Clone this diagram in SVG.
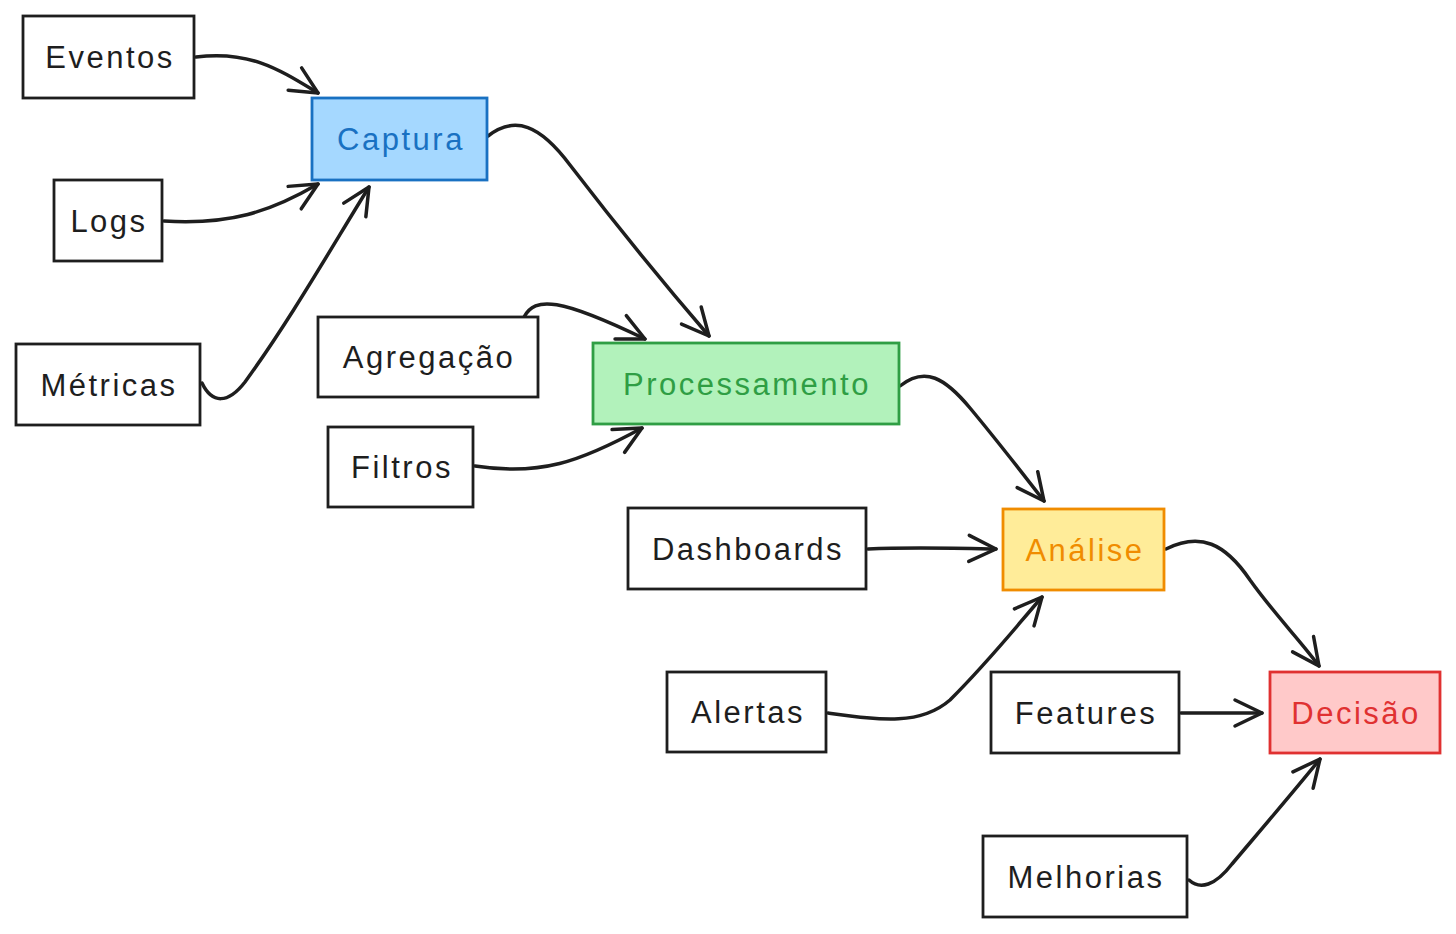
<svg xmlns="http://www.w3.org/2000/svg" width="1456" height="934" viewBox="0 0 1456 934">
<style>
.box{fill:#ffffff;stroke:#1e1e1e;stroke-width:2.8}
.lbl{font-family:"Liberation Sans","DejaVu Sans",sans-serif;font-size:31px;letter-spacing:2.5px;text-anchor:middle;fill:#1e1e1e}
.conn path{fill:none;stroke:#1e1e1e;stroke-width:3.5;stroke-linecap:round}
</style>
<defs>
<marker id="ah" markerUnits="userSpaceOnUse" markerWidth="36" markerHeight="36" refX="32" refY="18" orient="auto" viewBox="0 0 36 36">
<path d="M5,5 L32,18 L5,31" fill="none" stroke="#1e1e1e" stroke-width="3.5" stroke-linecap="round" stroke-linejoin="round"/>
</marker>
</defs>
<rect width="1456" height="934" fill="#ffffff"/>
<g class="conn" id="connectors">
<path d="M196,57 C250,50 280,70 318,93" marker-end="url(#ah)"/>
<path d="M164,221 C230,225 270,212 318,184" marker-end="url(#ah)"/>
<path d="M202,383 C212,404 228,404 245,382 C290,320 330,250 369,187" marker-end="url(#ah)"/>
<path d="M488,136 C515,115 540,125 570,165 C620,230 665,285 709,336" marker-end="url(#ah)"/>
<path d="M524,317 C535,296 560,298 645,339" marker-end="url(#ah)"/>
<path d="M475,466 C540,476 580,462 642,428" marker-end="url(#ah)"/>
<path d="M900,386 C925,366 945,378 970,408 C990,432 1020,470 1044,501" marker-end="url(#ah)"/>
<path d="M868,549 C910,547 950,548 996,549" marker-end="url(#ah)"/>
<path d="M828,713 C880,720 920,726 950,700 C990,660 1015,628 1042,597" marker-end="url(#ah)"/>
<path d="M1166,549 C1200,532 1225,543 1250,580 C1275,615 1300,640 1319,666" marker-end="url(#ah)"/>
<path d="M1181,713 L1262,713" marker-end="url(#ah)"/>
<path d="M1189,880 C1200,890 1215,886 1232,864 C1265,825 1295,790 1320,759" marker-end="url(#ah)"/>
</g>
<g id="eventos"><rect class="box" x="23" y="16" width="171" height="82"/><text class="lbl" x="110" y="68">Eventos</text></g>
<g id="captura"><rect class="box" x="312" y="98" width="175" height="82" style="fill:#a5d8ff;stroke:#1971c2"/><text class="lbl" x="401" y="150" style="fill:#1971c2">Captura</text></g>
<g id="logs"><rect class="box" x="54" y="180" width="108" height="81"/><text class="lbl" x="109" y="232">Logs</text></g>
<g id="metricas"><rect class="box" x="16" y="344" width="184" height="81"/><text class="lbl" x="109" y="396">Métricas</text></g>
<g id="agregacao"><rect class="box" x="318" y="317" width="220" height="80"/><text class="lbl" x="429" y="368">Agregação</text></g>
<g id="filtros"><rect class="box" x="328" y="427" width="145" height="80"/><text class="lbl" x="402" y="478">Filtros</text></g>
<g id="processamento"><rect class="box" x="593" y="343" width="306" height="81" style="fill:#b2f2bb;stroke:#2f9e44"/><text class="lbl" x="747" y="395" style="fill:#2f9e44">Processamento</text></g>
<g id="dashboards"><rect class="box" x="628" y="508" width="238" height="81"/><text class="lbl" x="748" y="560">Dashboards</text></g>
<g id="analise"><rect class="box" x="1003" y="509" width="161" height="81" style="fill:#ffec99;stroke:#f08c00"/><text class="lbl" x="1085" y="561" style="fill:#f08c00">Análise</text></g>
<g id="alertas"><rect class="box" x="667" y="672" width="159" height="80"/><text class="lbl" x="748" y="723">Alertas</text></g>
<g id="features"><rect class="box" x="991" y="672" width="188" height="81"/><text class="lbl" x="1086" y="724">Features</text></g>
<g id="decisao"><rect class="box" x="1270" y="672" width="170" height="81" style="fill:#ffc9c9;stroke:#e03131"/><text class="lbl" x="1356" y="724" style="fill:#e03131">Decisão</text></g>
<g id="melhorias"><rect class="box" x="983" y="836" width="204" height="81"/><text class="lbl" x="1086" y="888">Melhorias</text></g>
</svg>
